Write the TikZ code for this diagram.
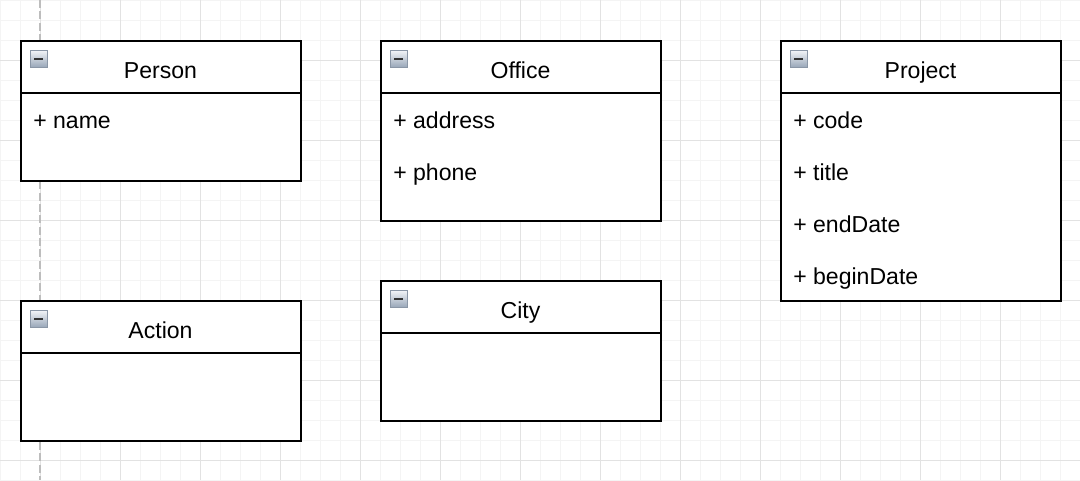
\documentclass[tikz,border=0pt]{standalone}
\usepackage{fontspec}
\setmainfont{Liberation Sans}
\definecolor{gridminor}{HTML}{F4F4F4}
\definecolor{gridmajor}{HTML}{E2E2E2}
\definecolor{guide}{HTML}{BDBDBD}
\definecolor{icontop}{HTML}{F2F4F7}
\definecolor{iconbot}{HTML}{98A6B8}
\definecolor{iconedge}{HTML}{8A96A6}
\tikzset{
  umlbox/.style={draw=black, fill=white, line width=1.1pt, anchor=north west,
    minimum width=210pt, inner sep=0pt, outer sep=0pt},
  umltitle/.style={font=\fontsize{17.3pt}{20pt}\selectfont, inner sep=0pt, anchor=base},
  umlattr/.style={font=\fontsize{17.3pt}{20pt}\selectfont, inner sep=0pt, anchor=base west},
  divider/.style={line width=1.1pt},
  iconbox/.style={draw=iconedge, line width=0.5pt, top color=icontop, bottom color=iconbot,
    minimum size=12.75pt, inner sep=0pt, anchor=north west},
}
% #1 name, #2 x, #3 y, #4 height(px), #5 title
\newcommand{\umlclass}[5]{%
  \node[umlbox, minimum height=#4*0.75pt] (#1) at (#2,#3) {};
  \coordinate (#1-d) at (#2,#3+52);
  \draw[divider] (#1-d) -- ++(280,0);
  \node[umltitle] (#1-t) at (#2+139.5,#3+37) {#5};
  \node[iconbox] (#1-i) at (#2+9,#3+9) {};
  \draw[line width=1.8pt, black!80] ([xshift=3.2pt]#1-i.west) -- ([xshift=-3.2pt]#1-i.east);
}
\begin{document}
\begin{tikzpicture}[x=0.75pt,y=-0.75pt]
\useasboundingbox (0,0) rectangle (1080,480);
\fill[white] (0,0) rectangle (1080,480);
% grid
\foreach \gx in {0,20,...,1080} \draw[gridminor, line width=0.75pt] (\gx,0) -- (\gx,480);
\foreach \gy in {0,20,...,480} \draw[gridminor, line width=0.75pt] (0,\gy) -- (1080,\gy);
\foreach \gx in {40,120,...,1080} \draw[gridmajor, line width=0.75pt] (\gx,0) -- (\gx,480);
\foreach \gy in {60,140,...,480} \draw[gridmajor, line width=0.75pt] (0,\gy) -- (1080,\gy);
% guide
\coordinate (gtop) at (40,0);
\coordinate (gbot) at (40,480);
\draw[guide, line width=0.9pt, dash pattern=on 6pt off 2.5pt] (gtop) -- (gbot);
% classes
\umlclass{person}{21}{41}{140}{Person}
\node[umlattr] (person-a1) at (33,128) {+ name};
\umlclass{office}{381}{41}{180}{Office}
\node[umlattr] (office-a1) at (393,128) {+ address};
\node[umlattr] (office-a2) at (393,180) {+ phone};
\umlclass{project}{781}{41}{260}{Project}
\node[umlattr] (project-a1) at (793,128) {+ code};
\node[umlattr] (project-a2) at (793,180) {+ title};
\node[umlattr] (project-a3) at (793,232) {+ endDate};
\node[umlattr] (project-a4) at (793,284) {+ beginDate};
\umlclass{action}{21}{301}{140}{Action}
\umlclass{city}{381}{281}{140}{City}
\end{tikzpicture}
\end{document}
